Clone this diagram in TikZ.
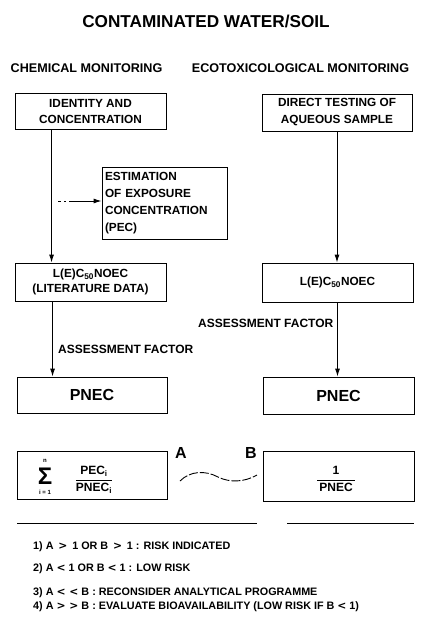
\documentclass[tikz,border=0pt]{standalone}
\usepackage{fontspec}
\setmainfont{Liberation Sans}
\usetikzlibrary{arrows.meta}
\begin{document}
\begin{tikzpicture}[x=1pt,y=-1pt,
  box/.style={draw,line width=0.9pt,inner sep=0pt,align=center,font=\bfseries\fontsize{11.8}{16}\selectfont},
  lbl/.style={font=\bfseries\fontsize{12}{14}\selectfont,inner sep=0pt},
  lst/.style={font=\bfseries\fontsize{10.8}{13}\selectfont,inner sep=0pt,anchor=west},
  head/.style={font=\bfseries\fontsize{12.6}{15}\selectfont,inner sep=0pt},
  big/.style={font=\bfseries\fontsize{16}{18}\selectfont,inner sep=0pt},
  arr/.style={line width=0.9pt,-{Latex[length=8pt,width=5pt]}},
  ln/.style={line width=0.9pt}]
\useasboundingbox (0,0) rectangle (425,619);
% titles
\node[font=\bfseries\fontsize{17.2}{20}\selectfont,inner sep=0pt] (title) at (206,21) {CONTAMINATED WATER/SOIL};
\node[head] (chem) at (86.5,68) {CHEMICAL MONITORING};
\node[head] (eco) at (300.5,68) {ECOTOXICOLOGICAL MONITORING};
% boxes
\node[box,minimum width=151pt,minimum height=36pt] (id) at (90.5,111) {IDENTITY AND\\CONCENTRATION};
\node[box,minimum width=150pt,minimum height=37pt,font=\bfseries\fontsize{11.8}{17}\selectfont] (dt) at (337,112.5) {DIRECT TESTING OF\\AQUEOUS SAMPLE};
\node[box,minimum width=125pt,minimum height=72pt,align=left,text width=119pt,inner xsep=3pt,font=\bfseries\fontsize{11.8}{17}\selectfont] (pec) at (164.5,203) {ESTIMATION\\OF EXPOSURE\\CONCENTRATION\\(PEC)};
\node[box,minimum width=151pt,minimum height=38pt,font=\bfseries\fontsize{11.8}{15}\selectfont] (lo1) at (90.5,282) {L(E)C\textsubscript{50}NOEC\\(LITERATURE DATA)};
\node[box,minimum width=151pt,minimum height=39pt] (lo2) at (337.5,282.5) {L(E)C\textsubscript{50}NOEC};
\node[box,minimum width=150pt,minimum height=36pt,font=\bfseries\fontsize{16}{18}\selectfont] (pn1) at (92,395) {PNEC};
\node[box,minimum width=151pt,minimum height=37pt,font=\bfseries\fontsize{16}{18}\selectfont] (pn2) at (338.5,395.5) {PNEC};
\node[box,minimum width=150pt,minimum height=48pt] (sum) at (92,475) {};
\node[box,minimum width=151pt,minimum height=50pt] (inv) at (338.5,476) {};
% sum content
\node[font=\bfseries\fontsize{24}{26}\selectfont,inner sep=0pt] (sig) at (45,476) {Σ};
\node[font=\bfseries\fontsize{6}{7}\selectfont,inner sep=0pt] (sn) at (45,461) {n};
\node[font=\bfseries\fontsize{6}{7}\selectfont,inner sep=0pt] (si) at (45,492) {i = 1};
\node[lbl] (frac1) at (94,480) {\setlength{\arrayrulewidth}{0.9pt}\renewcommand{\arraystretch}{1.15}\begin{tabular}{@{}c@{}}PEC\textsubscript{i}\\\hline PNEC\textsubscript{i}\end{tabular}};
\node[lbl] (frac2) at (336,480) {\setlength{\arrayrulewidth}{0.9pt}\renewcommand{\arraystretch}{1.15}\begin{tabular}{@{}c@{}}1\\\hline \,PNEC\,\end{tabular}};
% A and B
\node[big] (A) at (181,453) {A};
\node[big] (B) at (251,453) {B};
\coordinate (w1) at (180,481);
\coordinate (w2) at (257,475);
\draw[ln,dash pattern=on 9pt off 2pt] (w1) .. controls (190,471) and (205,470) .. (218,477) .. controls (230,483) and (245,482) .. (w2);
% arrows
\coordinate (d0) at (58,201);
\draw[line width=0.9pt,dash pattern=on 3pt off 3pt on 2pt off 3pt on 60pt,-{Latex[length=8pt,width=5pt]}] (d0) -- (d0 -| pec.west);
\draw[arr] ([xshift=37pt]id.south west) -- ([xshift=37pt]lo1.north west);
\draw[arr] ([xshift=38pt]lo1.south west) -- ([xshift=38pt]lo1.south west |- pn1.north);
\draw[arr] (dt.south) -- (dt.south |- lo2.north);
\draw[arr] (lo2.south) -- (lo2.south |- pn2.north);
\node[lbl,anchor=west] (af1) at (58,349) {ASSESSMENT FACTOR};
\node[lbl,anchor=west] (af2) at (198,323) {ASSESSMENT FACTOR};
% bottom rules
\coordinate (r1) at (17,523);
\coordinate (r2) at (257,523);
\coordinate (r3) at (287,523);
\coordinate (r4) at (414,523);
\draw[ln] (r1) -- (r2);
\draw[ln] (r3) -- (r4);
% list
\node[lst] (c1) at (33,547) {1) A \,{\fontspec{DejaVu Sans}\bfseries >}\, 1 OR B \,{\fontspec{DejaVu Sans}\bfseries >}\, 1 : RISK INDICATED};
\node[lst] (c2) at (33,569) {2) A {\fontspec{DejaVu Sans}\bfseries <} 1 OR B {\fontspec{DejaVu Sans}\bfseries <} 1 : LOW RISK};
\node[lst] (c3) at (33,593) {3) A {\fontspec{DejaVu Sans}\bfseries < <} B : RECONSIDER ANALYTICAL PROGRAMME};
\node[lst] (c4) at (33,607) {4) A {\fontspec{DejaVu Sans}\bfseries > >} B : EVALUATE BIOAVAILABILITY (LOW RISK IF B {\fontspec{DejaVu Sans}\bfseries <} 1)};
\end{tikzpicture}
\end{document}
